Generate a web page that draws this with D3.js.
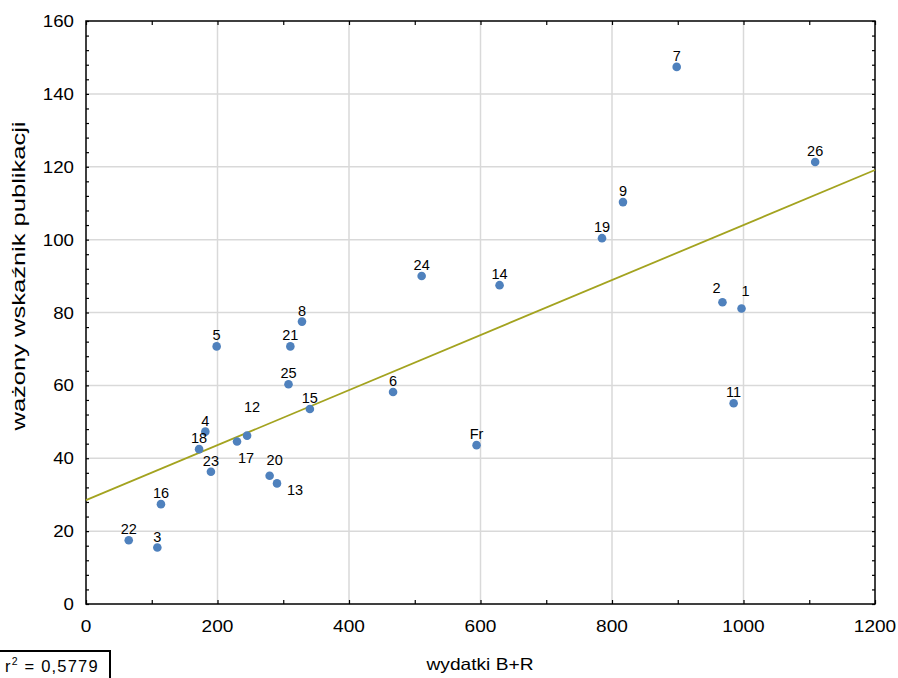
<!DOCTYPE html>
<html>
<head>
<meta charset="utf-8">
<script src="https://cdn.jsdelivr.net/npm/d3@7"></script>
<style>
  body { margin: 0; background: #fff; }
  text { font-family: "Liberation Sans", Arial, sans-serif; fill: #000; }
</style>
</head>
<body>
<div id="area"></div>
<script>
// countries / regions (labels of the points)
var labels = ["1","2","3","4","5","6","7","8","9","11","12","13","14","15","16","17","18","19","20","21","22","23","24","25","26","Fr"];
// wydatki B+R
var spend  = [997, 968, 108.5, 181.5, 198.7, 467, 898.4, 328.5, 816.7, 985, 245, 290.5, 629, 340.5, 114, 229.7, 172, 784.8, 279.3, 310.8, 65, 190, 510.5, 308, 1109, 594];
// ważony wskaźnik publikacji
var pubs   = [81.1, 82.8, 15.5, 47.3, 70.7, 58.2, 147.4, 77.5, 110.3, 55.1, 46.2, 33.1, 87.5, 53.5, 27.4, 44.6, 42.5, 100.4, 35.2, 70.7, 17.5, 36.3, 90, 60.3, 121.3, 43.6];
// fitted line
var fitIntercept = 28.5, fitSlope = 0.0755;
var xTicks = [0, 200, 400, 600, 800, 1000, 1200];
var yTicks = [0, 20, 40, 60, 80, 100, 120, 140, 160];
var r2Text = "0,5779";

// labels that are not sitting straight above their point
var labelShift = { "12": [5, -24], "17": [9, 22], "13": [18, 12], "20": [5, -11], "2": [-6, -9], "1": [4, -12] };

var W = 898, H = 678;
var margin = {top: 21, right: 23, bottom: 74, left: 86};

var svg = d3.select('#area').append('svg')
            .attr('width', W)
            .attr('height', H);

var x = d3.scaleLinear().domain([0, 1200]).range([margin.left, W - margin.right]);
var y = d3.scaleLinear().domain([0, 160]).range([H - margin.bottom, margin.top]);

// grid
svg.append('g').selectAll('line').data(xTicks.slice(1, -1)).enter().append('line')
   .attr('x1', d => x(d)).attr('x2', d => x(d))
   .attr('y1', y(0)).attr('y2', y(160))
   .attr('stroke', '#d9d9d9').attr('stroke-width', 1.5);
svg.append('g').selectAll('line').data(yTicks.slice(1, -1)).enter().append('line')
   .attr('y1', d => y(d)).attr('y2', d => y(d))
   .attr('x1', x(0)).attr('x2', x(1200))
   .attr('stroke', '#d9d9d9').attr('stroke-width', 1.5);

// axes, ticks pointing inward on all four sides
var xMinor = d3.range(0, 1201, 100), yMinor = d3.range(0, 161, 4);
function noText(g) { g.selectAll('text').remove(); g.select('.domain').remove(); g.selectAll('line').attr('stroke-width', 1.2); }

svg.append('g').attr('transform', 'translate(0,' + y(0) + ')')
   .call(d3.axisTop(x).tickValues(xMinor).tickSize(4)).call(noText);
svg.append('g').attr('transform', 'translate(0,' + y(160) + ')')
   .call(d3.axisBottom(x).tickValues(xMinor).tickSize(4)).call(noText);
svg.append('g').attr('transform', 'translate(' + x(0) + ',0)')
   .call(d3.axisRight(y).tickValues(yMinor).tickSize(3)).call(noText);
svg.append('g').attr('transform', 'translate(' + x(1200) + ',0)')
   .call(d3.axisLeft(y).tickValues(yMinor).tickSize(3)).call(noText);

// tick labels
svg.append('g').selectAll('text').data(xTicks).enter().append('text')
   .attr('x', d => x(d)).attr('y', 632)
   .attr('text-anchor', 'middle')
   .attr('font-size', 16.5)
   .attr('textLength', d => String(d).length * 10.6)
   .attr('lengthAdjust', 'spacingAndGlyphs')
   .text(d => d);
svg.append('g').selectAll('text').data(yTicks).enter().append('text')
   .attr('x', 74).attr('y', d => y(d) + 6)
   .attr('text-anchor', 'end')
   .attr('font-size', 16.5)
   .attr('textLength', d => String(d).length * 10.4)
   .attr('lengthAdjust', 'spacingAndGlyphs')
   .text(d => d);

// frame
svg.append('rect')
   .attr('x', x(0)).attr('y', y(160))
   .attr('width', x(1200) - x(0)).attr('height', y(0) - y(160))
   .attr('fill', 'none').attr('stroke', '#000').attr('stroke-width', 1.5);

// regression line
svg.append('line')
   .attr('x1', x(0)).attr('y1', y(fitIntercept))
   .attr('x2', x(1200)).attr('y2', y(fitIntercept + fitSlope * 1200))
   .attr('stroke', '#a3a31f').attr('stroke-width', 1.8);

// points
var pts = labels.map((l, i) => ({label: l, sx: spend[i], py: pubs[i]}));
svg.append('g').selectAll('circle').data(pts).enter().append('circle')
   .attr('cx', d => x(d.sx)).attr('cy', d => y(d.py))
   .attr('r', 4.3)
   .attr('fill', '#4f81bd');

svg.append('g').selectAll('text').data(pts).enter().append('text')
   .attr('x', d => x(d.sx) + (labelShift[d.label] ? labelShift[d.label][0] : 0))
   .attr('y', d => y(d.py) + (labelShift[d.label] ? labelShift[d.label][1] : -6))
   .attr('text-anchor', 'middle')
   .attr('font-size', 14.5)
   .text(d => d.label);

// axis titles
svg.append('text')
   .attr('x', 480).attr('y', 670)
   .attr('text-anchor', 'middle')
   .attr('font-size', 16.5)
   .attr('textLength', 107)
   .attr('lengthAdjust', 'spacingAndGlyphs')
   .text('wydatki B+R');
svg.append('text')
   .attr('transform', 'translate(25,276) rotate(-90)')
   .attr('text-anchor', 'middle')
   .attr('font-size', 18)
   .attr('textLength', 309)
   .attr('lengthAdjust', 'spacingAndGlyphs')
   .text('ważony wskaźnik publikacji');

// r² box
svg.append('rect')
   .attr('x', -2).attr('y', 651)
   .attr('width', 112).attr('height', 40)
   .attr('fill', '#fff').attr('stroke', '#000').attr('stroke-width', 2);
var r2 = svg.append('text').attr('x', 5).attr('y', 672).attr('font-size', 16.5).attr('letter-spacing', 1.2);
r2.append('tspan').text('r');
r2.append('tspan').attr('font-size', 10.5).attr('dy', -7).text('2');
r2.append('tspan').attr('dy', 7).text(' = ' + r2Text);
</script>
</body>
</html>
